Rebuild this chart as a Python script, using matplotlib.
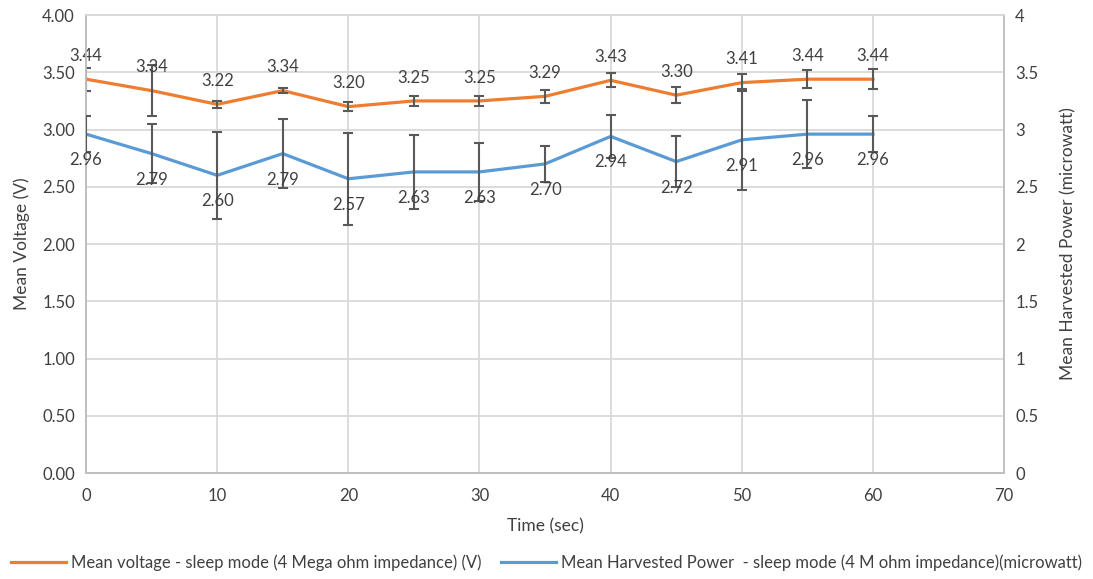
import numpy as np
import matplotlib.pyplot as plt

plt.rcParams['font.family'] = ['Lato', 'DejaVu Sans']

time_sec = [0, 5, 10, 15, 20, 25, 30, 35, 40, 45, 50, 55, 60]
voltage = [3.44, 3.34, 3.22, 3.34, 3.20, 3.25, 3.25, 3.29, 3.43, 3.30, 3.41, 3.44, 3.44]
voltage_err = [0.10, 0.22, 0.03, 0.025, 0.04, 0.04, 0.04, 0.055, 0.06, 0.07, 0.075, 0.08, 0.09]
power = [2.96, 2.79, 2.60, 2.79, 2.57, 2.63, 2.63, 2.70, 2.94, 2.72, 2.91, 2.96, 2.96]
power_err = [0.16, 0.26, 0.38, 0.30, 0.40, 0.32, 0.25, 0.16, 0.19, 0.22, 0.44, 0.30, 0.155]

orange = '#ED7D31'
blue = '#5B9BD5'
grid_c = '#D9D9D9'
axis_c = '#BFBFBF'
text_c = '#404040'
err_c = '#595959'

fig = plt.figure(figsize=(10.93, 5.79), dpi=100)
ax = fig.add_axes([0.0787, 0.183, 0.840, 0.791])
ax2 = ax.twinx()

l1, = ax.plot(time_sec, voltage, color=orange, lw=2.3, zorder=2)
ax.errorbar(time_sec, voltage, yerr=voltage_err, fmt='none', ecolor=err_c,
            elinewidth=1.5, capsize=3.5, capthick=1.5, zorder=3)
l2, = ax2.plot(time_sec, power, color=blue, lw=2.3, zorder=2)
ax2.errorbar(time_sec, power, yerr=power_err, fmt='none', ecolor=err_c,
             elinewidth=1.5, capsize=3.5, capthick=1.5, zorder=3)

for x, v in zip(time_sec, voltage):
    ax.annotate(f'{v:.2f}', (x, v), xytext=(0, 11), textcoords='offset points',
                ha='center', va='bottom', fontsize=12, color=text_c)
for x, p in zip(time_sec, power):
    ax2.annotate(f'{p:.2f}', (x, p), xytext=(0, -13), textcoords='offset points',
                 ha='center', va='top', fontsize=12, color=text_c)

ax.set_xlim(0, 70)
ax.set_ylim(0, 4)
ax2.set_ylim(0, 4)
ax.set_xticks(np.arange(0, 71, 10))
ax.set_yticks(np.arange(0, 4.01, 0.5))
ax.set_yticklabels([f'{t:.2f}' for t in np.arange(0, 4.01, 0.5)])
ax2.set_yticks(np.arange(0, 4.01, 0.5))
ax2.set_yticklabels([f'{t:g}' for t in np.arange(0, 4.01, 0.5)])

ax.grid(True, color=grid_c, lw=1.3)
ax.set_axisbelow(True)
for a in (ax, ax2):
    for s in a.spines.values():
        s.set_color(grid_c)
        s.set_linewidth(1.3)
    a.spines['bottom'].set_color(axis_c)
    a.spines['left'].set_color(axis_c)
    a.tick_params(length=0, labelsize=12, colors=text_c, pad=8)
ax2.spines['right'].set_color(axis_c)
ax.tick_params(axis='x', pad=11)

ax.set_xlabel('Time (sec)', fontsize=12.5, color=text_c, labelpad=10)
ax.set_ylabel('Mean Voltage (V)', fontsize=12.5, color=text_c, labelpad=9)
ax2.set_ylabel('Mean Harvested Power (microwatt)', fontsize=12.5, color=text_c, labelpad=16)

fig.legend([l1, l2],
           ['Mean voltage - sleep mode (4 Mega ohm impedance) (V)',
            'Mean Harvested Power  - sleep mode (4 M ohm impedance)(microwatt)'],
           loc='lower center', bbox_to_anchor=(0.5, -0.012), ncol=2, frameon=False,
           fontsize=12, handlelength=3.3, handletextpad=0.3, columnspacing=1.2,
           labelcolor=text_c)

fig.savefig('out.png', dpi=100)
